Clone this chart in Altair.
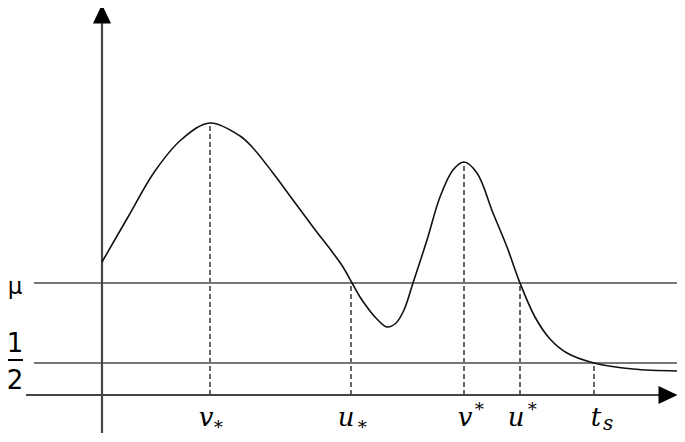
import altair as alt
import pandas as pd

# Curve (schematic), x and y in units measured from the origin
curve_x = [0, 26, 53, 80, 108, 138, 151, 171, 191, 211, 231, 241, 250,
           258, 265, 274, 285, 294, 302, 311, 325, 338, 351, 362, 375, 391, 405,
           418, 433, 448, 465, 492, 531, 578]
curve_y = [133, 178, 224, 256, 272, 259, 247, 222, 195, 168, 142, 128, 112,
           98, 88, 77, 68, 72, 85, 112, 155, 198, 225, 233, 222, 182, 148,
           112, 78, 56, 42, 32, 26, 24]

# Levels
mu_level = 112
half_level = 32

# Marked points on the t axis and curve value there
mark_names = ["v_*", "u_*", "v^*", "u^*", "t_s"]
mark_x = [108, 249, 362, 418, 492]
mark_top = [272, 112, 233, 112, 32]

# Label pieces
main_text = ["v", "u", "v", "u", "t"]
main_x = [104, 244, 363, 414, 494]
sub_text = ["∗", "∗", "∗", "∗", "s"]
sub_x = [116, 260, 377, 430, 506]
sub_y = [-30, -30, -12, -12, -35]
sub_size = [18, 18, 18, 18, 20]
sub_base = ["middle", "middle", "middle", "middle", "alphabetic"]

XD = [-94, 575]
YD = [-39, 387]
W, H = 669, 426

xs = alt.Scale(domain=XD, nice=False, zero=False)
ys = alt.Scale(domain=YD, nice=False, zero=False)

def X(f="x"):
    return alt.X(f, type="quantitative", scale=xs, axis=None)

def Y(f="y"):
    return alt.Y(f, type="quantitative", scale=ys, axis=None)

curve_df = pd.DataFrame({"x": curve_x, "y": curve_y})
curve = alt.Chart(curve_df).mark_line(color="#111", strokeWidth=1.6, interpolate="catmull-rom").encode(
    x=X(), y=Y())

hl_df = pd.DataFrame({"x": [-68, -68], "x2": [578, 578], "y": [mu_level, half_level]})
hlines = alt.Chart(hl_df).mark_rule(color="#777", strokeWidth=2).encode(
    x=X(), x2="x2", y=Y())

dash_df = pd.DataFrame({"x": mark_x, "y": [0] * 5, "y2": mark_top, "name": mark_names})
dashes = alt.Chart(dash_df).mark_rule(color="#666", strokeWidth=2, strokeDash=[5, 3]).encode(
    x=X(), y=Y(), y2="y2")

axes_df = pd.DataFrame({"x": [-76, 0], "x2": [557, 0], "y": [0, -38], "y2": [0, 373]})
axes = alt.Chart(axes_df).mark_rule(color="#444", strokeWidth=2.2).encode(
    x=X(), x2="x2", y=Y(), y2="y2")

arrow_x = alt.Chart(pd.DataFrame({"x": [566], "y": [0]})).mark_point(
    shape="M-1,-0.95L1,0L-1,0.95Z", size=361, filled=True, color="#000", opacity=1).encode(x=X(), y=Y())
arrow_y = alt.Chart(pd.DataFrame({"x": [0], "y": [381]})).mark_point(
    shape="M-0.95,1L0,-1L0.95,1Z", size=361, filled=True, color="#000", opacity=1).encode(x=X(), y=Y())

main_df = pd.DataFrame({"x": main_x, "y": [-31] * 5, "t": main_text})
main_lbl = alt.Chart(main_df).mark_text(font="DejaVu Serif", fontStyle="italic", fontSize=26,
                                        baseline="alphabetic", align="center", color="#000").encode(
    x=X(), y=Y(), text="t:N")

sub_layers = []
for base in ["middle", "alphabetic"]:
    idx = [i for i, b in enumerate(sub_base) if b == base]
    df = pd.DataFrame({"x": [sub_x[i] for i in idx], "y": [sub_y[i] for i in idx],
                       "t": [sub_text[i] for i in idx], "s": [sub_size[i] for i in idx]})
    sub_layers.append(alt.Chart(df).mark_text(
        font="DejaVu Serif", fontStyle="italic", baseline=base, align="center", color="#000").encode(
        x=X(), y=Y(), text="t:N", size=alt.Size("s:Q", scale=None, legend=None)))

ylab_df = pd.DataFrame({"x": [-87, -87, -87], "y": [108, 51, 14], "t": ["μ", "1", "2"],
                        "s": [23, 26, 26]})
ylab = alt.Chart(ylab_df).mark_text(font="DejaVu Sans", baseline="middle", align="center",
                                    color="#000").encode(
    x=X(), y=Y(), text="t:N", size=alt.Size("s:Q", scale=None, legend=None))

bar_df = pd.DataFrame({"x": [-94], "x2": [-79], "y": [35]})
bar = alt.Chart(bar_df).mark_rule(color="#000", strokeWidth=2).encode(x=X(), x2="x2", y=Y())

chart = alt.layer(hlines, dashes, axes, arrow_x, arrow_y, curve, main_lbl, *sub_layers, ylab, bar).properties(
    width=W, height=H, padding=0, background="white", autosize=alt.AutoSizeParams(type="none")
).configure_view(stroke=None)

chart.save("out.html", embed_options={"renderer": "svg", "actions": False})
